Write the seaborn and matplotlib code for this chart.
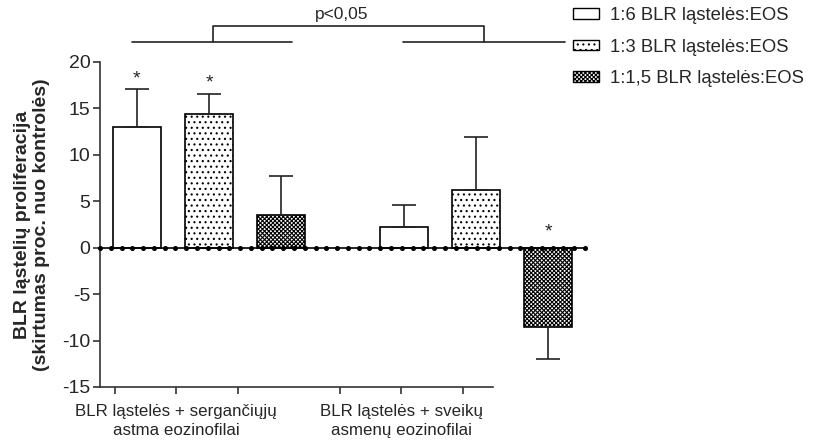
import numpy as np
import pandas as pd
import matplotlib
matplotlib.use('Agg')
import matplotlib.pyplot as plt
import seaborn as sns
from matplotlib.patches import Patch

groups = ['BLR ląstelės + sergančiųjų\nastma eozinofilai',
          'BLR ląstelės + sveikų\nasmenų eozinofilai']
ratios = ['1:6 BLR ląstelės:EOS', '1:3 BLR ląstelės:EOS', '1:1,5 BLR ląstelės:EOS']
asthma_mean = [13.0, 14.4, 3.5]
asthma_err = [4.1, 2.2, 4.2]
healthy_mean = [2.2, 6.2, -8.5]
healthy_err = [2.4, 5.7, 3.5]
asthma_star = [True, True, False]
healthy_star = [False, False, True]
p_text = 'p<0,05'

hatches = ['', '...', 'xxxxxxxx']

sns.set_theme(style='ticks')
plt.rcParams['font.family'] = ['Liberation Sans', 'DejaVu Sans']
plt.rcParams['hatch.linewidth'] = 0.8
plt.rcParams['axes.unicode_minus'] = False

df = pd.DataFrame({
    'group': [groups[0]] * 3 + [groups[1]] * 3,
    'ratio': ratios * 2,
    'value': asthma_mean + healthy_mean,
    'err': asthma_err + healthy_err,
    'star': asthma_star + healthy_star,
})

fig = plt.figure(figsize=(8.35, 4.46), dpi=100)
ax = fig.add_axes([0.1198, 0.1323, 0.5808, 0.7287])

sns.barplot(data=df, x='group', y='value', hue='ratio', order=groups,
            hue_order=ratios, palette=['white'] * 3, width=0.81, gap=0.33,
            edgecolor='black', linewidth=1.2, errorbar=None, legend=False, ax=ax)

bar_sets = list(ax.containers)
for i, cont in enumerate(bar_sets):
    sub = df[df['ratio'] == ratios[i]].set_index('group').loc[groups]
    for bar, (_, row) in zip(cont, sub.iterrows()):
        bar.set_hatch(hatches[i])
        xc = bar.get_x() + bar.get_width() / 2
        v, e = row['value'], row['err']
        yerr = [[0], [e]] if v >= 0 else [[e], [0]]
        ax.errorbar([xc], [v], yerr=yerr, fmt='none', ecolor='#222222',
                    elinewidth=1.2, capsize=8.5, capthick=1.2, zorder=1)
        if row['star']:
            ys = v + e + 0.2 if v >= 0 else 0.8
            ax.text(xc, ys, '*', ha='center', va='bottom', fontsize=14)

x0, x1 = -0.408, 1.408
ax.set_xlim(x0, x1)
ax.set_ylim(-15, 20)
ax.set_yticks([-15, -10, -5, 0, 5, 10, 15, 20])
ax.set_xticks([-0.352, -0.124, 0.109, 0.491, 0.719, 0.951])
ax.set_xticklabels(['', groups[0], '', '', groups[1], ''], fontsize=12.2,
                   linespacing=1.35)
ax.tick_params(axis='y', labelsize=14, length=5, width=1.2, color='#333333', pad=2)
ax.tick_params(axis='x', length=5, width=1.2, color='#333333', pad=7)
ax.set_xlabel('')
ax.set_ylabel('BLR ląstelių proliferacija\n(skirtumas proc. nuo kontrolės)',
              fontsize=14, fontweight='bold', labelpad=9, linespacing=1.15)
sns.despine(ax=ax)
ax.spines['bottom'].set_bounds(x0, 1.064)
for s in ['left', 'bottom']:
    ax.spines[s].set_linewidth(1.2)
    ax.spines[s].set_color('#333333')

# zero line with dots
xs = np.linspace(x0, x1, 46)
ax.plot(xs, np.zeros_like(xs), color='black', lw=1.2, marker='o', ms=2.6,
        clip_on=False, zorder=3)

# significance bracket
lk = dict(color='#222222', lw=1.2, clip_on=False)
ax.plot([-0.288, 0.311], [22.2, 22.2], **lk)
ax.plot([0.727, 1.333], [22.2, 22.2], **lk)
ax.plot([0.015, 0.015, 1.03, 1.03], [22.2, 23.9, 23.9, 22.2], **lk)
ax.text(0.496, 24.3, p_text, ha='center', va='bottom', fontsize=12.5, clip_on=False)

handles = [Patch(facecolor='white', edgecolor='black', hatch=h, linewidth=1.0)
           for h in hatches]
fig.legend(handles, ratios, loc='upper left', bbox_to_anchor=(0.686, 0.984),
           frameon=False, fontsize=13.3, handlelength=1.4, handleheight=0.5,
           handletextpad=0.6, labelspacing=0.78, borderpad=0, borderaxespad=0)

fig.savefig('out.png', dpi=100)
